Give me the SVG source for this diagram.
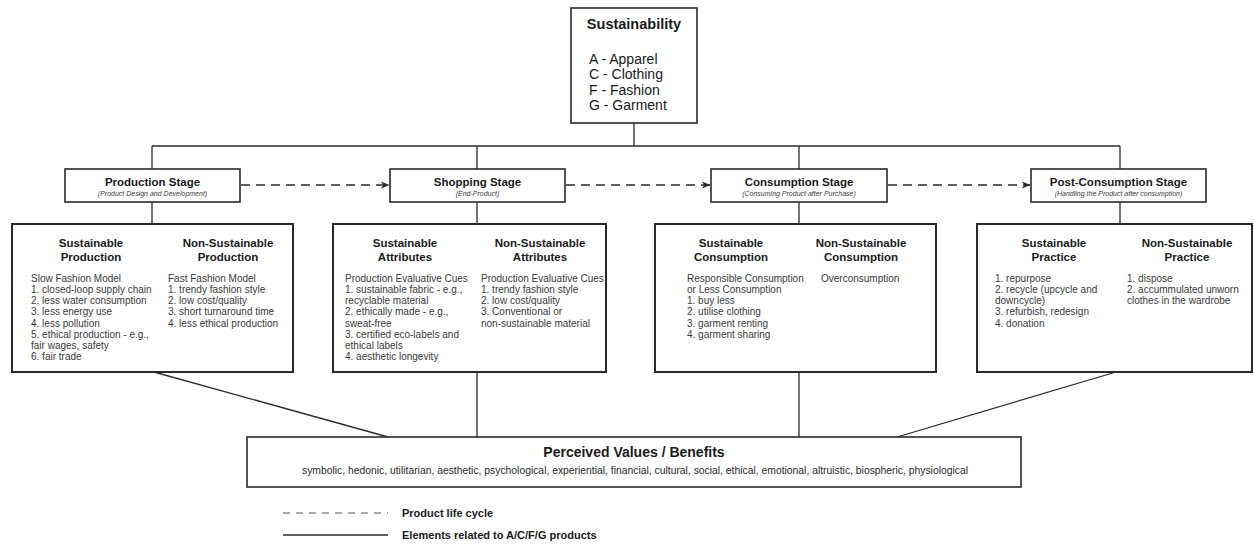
<svg xmlns="http://www.w3.org/2000/svg" width="1254" height="544" viewBox="0 0 1254 544">
<style>
  .bg { fill: #ffffff; }
  .box { fill: #ffffff; stroke: #2a2a2a; stroke-width: 1.6; }
  .cbox { fill: #ffffff; stroke: #2a2a2a; stroke-width: 2; }
  .ln { fill: none; stroke: #2a2a2a; stroke-width: 1.3; }
  .dash { fill: none; stroke: #2a2a2a; stroke-width: 1.3; stroke-dasharray: 9 6; }
  .t { font-family: "Liberation Sans", Arial, sans-serif; }
  .title { font-size: 14.5px; font-weight: bold; fill: #1a1a1a; text-anchor: middle; }
  .legendA { font-size: 14px; fill: #1a1a1a; }
  .stage { font-size: 11.5px; font-weight: bold; fill: #1a1a1a; text-anchor: middle; }
  .sub { font-size: 7px; font-style: italic; fill: #3a3a3a; text-anchor: middle; }
  .head { font-size: 11.5px; font-weight: bold; fill: #1a1a1a; text-anchor: middle; }
  .body { font-size: 10px; fill: #3a3a3a; }
  .pv { font-size: 14px; font-weight: bold; fill: #1a1a1a; text-anchor: middle; }
  .pvs { font-size: 11px; fill: #2a2a2a; }
  .leg { font-size: 11px; font-weight: bold; fill: #1a1a1a; }
</style>
<defs>
  <marker id="arr" markerWidth="9" markerHeight="8" refX="8" refY="4" orient="auto" markerUnits="userSpaceOnUse">
    <path d="M0,0.5 L8.5,4 L0,7.5 L2.2,4 z" fill="#2a2a2a"/>
  </marker>
</defs>
<rect class="bg" x="0" y="0" width="1254" height="544"/>

<g id="connectors">
  <line class="ln" x1="634" y1="123" x2="634" y2="146"/>
  <line class="ln" x1="152" y1="146" x2="1120" y2="146"/>
  <line class="ln" x1="152" y1="146" x2="152" y2="169"/>
  <line class="ln" x1="477" y1="146" x2="477" y2="169"/>
  <line class="ln" x1="799" y1="146" x2="799" y2="169"/>
  <line class="ln" x1="1120" y1="146" x2="1120" y2="169"/>
  <line class="ln" x1="152" y1="202" x2="152" y2="224"/>
  <line class="ln" x1="477" y1="202" x2="477" y2="224"/>
  <line class="ln" x1="799" y1="202" x2="799" y2="224"/>
  <line class="ln" x1="1120" y1="202" x2="1120" y2="224"/>
  <line class="dash" x1="241" y1="185" x2="389" y2="185" marker-end="url(#arr)"/>
  <line class="dash" x1="566" y1="185" x2="710" y2="185" marker-end="url(#arr)"/>
  <line class="dash" x1="888" y1="185" x2="1030" y2="185" marker-end="url(#arr)"/>
  <line class="ln" x1="154" y1="372" x2="388" y2="437"/>
  <line class="ln" x1="477" y1="372" x2="477" y2="437"/>
  <line class="ln" x1="799" y1="372" x2="799" y2="437"/>
  <line class="ln" x1="1116" y1="372" x2="897" y2="437"/>
</g>

<g id="sustainability">
  <rect class="box" x="571" y="8" width="126" height="115"/>
  <text class="t title" x="634" y="29">Sustainability</text>
  <text class="t legendA" x="589" y="64">A - Apparel</text>
  <text class="t legendA" x="589" y="79">C - Clothing</text>
  <text class="t legendA" x="589" y="94.5">F - Fashion</text>
  <text class="t legendA" x="589" y="110">G - Garment</text>
</g>

<g id="production-stage">
  <rect class="box" x="65" y="169" width="175" height="33"/>
  <text class="t stage" x="152.5" y="186">Production Stage</text>
  <text class="t sub" x="152.5" y="195.5">(Product Design and Development)</text>
</g>
<g id="shopping-stage">
  <rect class="box" x="390" y="169" width="175" height="33"/>
  <text class="t stage" x="477.5" y="186">Shopping Stage</text>
  <text class="t sub" x="477.5" y="195.5">(End-Product)</text>
</g>
<g id="consumption-stage">
  <rect class="box" x="711" y="169" width="176" height="33"/>
  <text class="t stage" x="799" y="186">Consumption Stage</text>
  <text class="t sub" x="799" y="195.5">(Consuming Product after Purchase)</text>
</g>
<g id="post-consumption-stage">
  <rect class="box" x="1031" y="169" width="175" height="33"/>
  <text class="t stage" x="1118.5" y="186">Post-Consumption Stage</text>
  <text class="t sub" x="1118.5" y="195.5">(Handling the Product after consumption)</text>
</g>

<g id="production-box">
  <rect class="cbox" x="12" y="224" width="281" height="148"/>
  <text class="t head" x="91" y="247">Sustainable<tspan x="91" dy="14">Production</tspan></text>
  <text class="t head" x="228" y="247">Non-Sustainable<tspan x="228" dy="14">Production</tspan></text>
  <text class="t body" x="31" y="282">Slow Fashion Model<tspan x="31" dy="11.15">1. closed-loop supply chain</tspan><tspan x="31" dy="11.15">2. less water consumption</tspan><tspan x="31" dy="11.15">3. less energy use</tspan><tspan x="31" dy="11.15">4. less pollution</tspan><tspan x="31" dy="11.15">5. ethical production - e.g.,</tspan><tspan x="31" dy="11.15">fair wages, safety</tspan><tspan x="31" dy="11.15">6. fair trade</tspan></text>
  <text class="t body" x="168" y="282">Fast Fashion Model<tspan x="168" dy="11.15">1. trendy fashion style</tspan><tspan x="168" dy="11.15">2. low cost/quality</tspan><tspan x="168" dy="11.15">3. short turnaround time</tspan><tspan x="168" dy="11.15">4. less ethical production</tspan></text>
</g>

<g id="shopping-box">
  <rect class="cbox" x="333" y="224" width="273" height="148"/>
  <text class="t head" x="405" y="247">Sustainable<tspan x="405" dy="14">Attributes</tspan></text>
  <text class="t head" x="540" y="247">Non-Sustainable<tspan x="540" dy="14">Attributes</tspan></text>
  <text class="t body" x="345" y="282">Production Evaluative Cues<tspan x="345" dy="11.15">1. sustainable fabric - e.g.,</tspan><tspan x="345" dy="11.15">recyclable material</tspan><tspan x="345" dy="11.15">2. ethically made - e.g.,</tspan><tspan x="345" dy="11.15">sweat-free</tspan><tspan x="345" dy="11.15">3. certified eco-labels and</tspan><tspan x="345" dy="11.15">ethical labels</tspan><tspan x="345" dy="11.15">4. aesthetic longevity</tspan></text>
  <text class="t body" x="481" y="282">Production Evaluative Cues<tspan x="481" dy="11.15">1. trendy fashion style</tspan><tspan x="481" dy="11.15">2. low cost/quality</tspan><tspan x="481" dy="11.15">3. Conventional or</tspan><tspan x="481" dy="11.15">non-sustainable material</tspan></text>
</g>

<g id="consumption-box">
  <rect class="cbox" x="655" y="224" width="281" height="148"/>
  <text class="t head" x="731" y="247">Sustainable<tspan x="731" dy="14">Consumption</tspan></text>
  <text class="t head" x="861" y="247">Non-Sustainable<tspan x="861" dy="14">Consumption</tspan></text>
  <text class="t body" x="687" y="282">Responsible Consumption<tspan x="687" dy="11.15">or Less Consumption</tspan><tspan x="687" dy="11.15">1. buy less</tspan><tspan x="687" dy="11.15">2. utilise clothing</tspan><tspan x="687" dy="11.15">3. garment renting</tspan><tspan x="687" dy="11.15">4. garment sharing</tspan></text>
  <text class="t body" x="821" y="282">Overconsumption</text>
</g>

<g id="post-consumption-box">
  <rect class="cbox" x="977" y="224" width="275" height="148"/>
  <text class="t head" x="1054" y="247">Sustainable<tspan x="1054" dy="14">Practice</tspan></text>
  <text class="t head" x="1187" y="247">Non-Sustainable<tspan x="1187" dy="14">Practice</tspan></text>
  <text class="t body" x="995" y="282">1. repurpose<tspan x="995" dy="11.15">2. recycle (upcycle and</tspan><tspan x="995" dy="11.15">downcycle)</tspan><tspan x="995" dy="11.15">3. refurbish, redesign</tspan><tspan x="995" dy="11.15">4. donation</tspan></text>
  <text class="t body" x="1127" y="282">1. dispose<tspan x="1127" dy="11.15">2. accummulated unworn</tspan><tspan x="1127" dy="11.15">clothes in the wardrobe</tspan></text>
</g>

<g id="perceived-values">
  <rect class="box" x="247" y="437" width="774" height="50"/>
  <text class="t pv" x="634" y="457">Perceived Values / Benefits</text>
  <text class="t pvs" x="302" y="474" textLength="666" lengthAdjust="spacingAndGlyphs">symbolic, hedonic, utilitarian, aesthetic, psychological, experiential, financial, cultural, social, ethical, emotional, altruistic, biospheric, physiological</text>
</g>

<g id="legend">
  <line x1="283" y1="513" x2="388" y2="513" stroke="#555" stroke-width="1.2" stroke-dasharray="7 6"/>
  <text class="t leg" x="402" y="517">Product life cycle</text>
  <line x1="283" y1="535" x2="388" y2="535" stroke="#2a2a2a" stroke-width="1.3"/>
  <text class="t leg" x="402" y="539">Elements related to A/C/F/G products</text>
</g>
</svg>
